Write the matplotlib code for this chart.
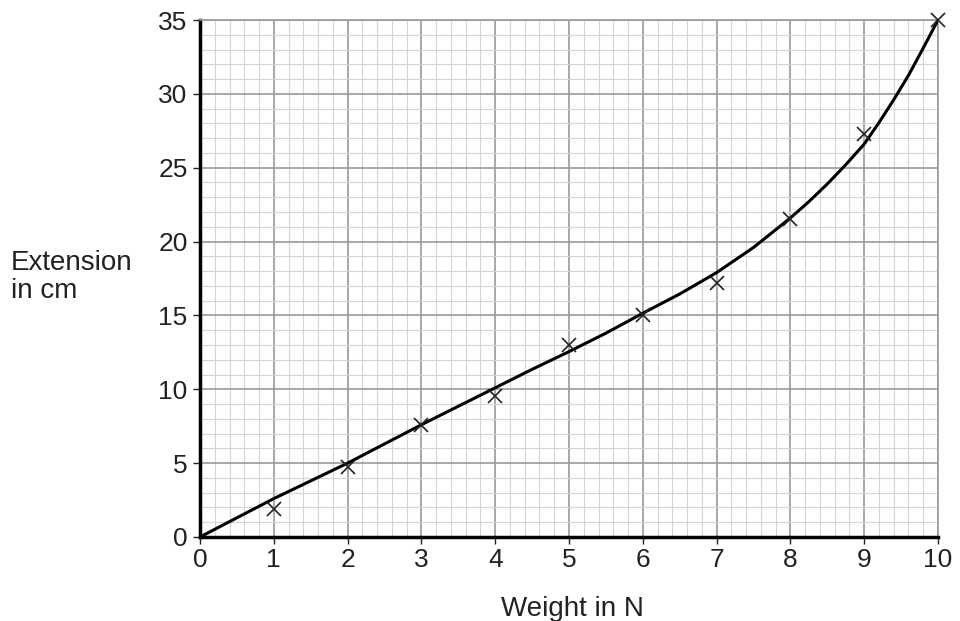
import matplotlib
matplotlib.use("Agg")
import matplotlib.pyplot as plt
from matplotlib.ticker import MultipleLocator

# measured points (crosses)
weight = [1, 2, 3, 4, 5, 6, 7, 8, 9, 10]
extension = [1.9, 4.75, 7.6, 9.55, 13.0, 15.0, 17.2, 21.5, 27.3, 35.0]

# best-fit curve
curve_x = [0, 0.5, 1, 1.5, 2, 2.5, 3, 3.5, 4, 4.5, 5, 5.5, 6, 6.5, 7, 7.5,
           8, 8.25, 8.5, 8.75, 9, 9.2, 9.4, 9.6, 9.8, 9.9, 10]
curve_y = [0, 1.3, 2.6, 3.8, 5.0, 6.3, 7.6, 8.85, 10.1, 11.35, 12.55, 13.8,
           15.15, 16.45, 17.9, 19.6, 21.6, 22.7, 23.9, 25.2, 26.6, 28.05,
           29.6, 31.25, 33.1, 34.05, 35.0]

plt.rcParams['font.family'] = ['Liberation Sans', 'DejaVu Sans']

fig = plt.figure(figsize=(9.6, 6.21), dpi=100)
ax = fig.add_axes([200 / 960, 84 / 621, 738 / 960, 517 / 621])

ax.set_xlim(0, 10)
ax.set_ylim(0, 35)
ax.xaxis.set_major_locator(MultipleLocator(1))
ax.xaxis.set_minor_locator(MultipleLocator(0.2))
ax.yaxis.set_major_locator(MultipleLocator(5))
ax.yaxis.set_minor_locator(MultipleLocator(1))

ax.grid(which='minor', color='#d4d4d4', linewidth=0.8)
ax.grid(which='major', color='#9a9a9a', linewidth=1.2)
ax.set_axisbelow(True)

for side in ['top', 'right']:
    ax.spines[side].set_color('#9a9a9a')
    ax.spines[side].set_linewidth(1.2)
for side in ['left', 'bottom']:
    ax.spines[side].set_color('black')
    ax.spines[side].set_linewidth(2.5)

ax.tick_params(which='major', direction='out', length=5, width=1,
               labelsize=19, colors='#222222', pad=4)
ax.tick_params(axis='x', pad=3)
ax.tick_params(which='minor', length=0)

ax.plot(curve_x, curve_y, color='black', linewidth=2.2, zorder=3,
        solid_capstyle='round', solid_joinstyle='round')
ax.plot(weight, extension, linestyle='none', marker='x', color='#222222',
        markersize=10, markeredgewidth=1.2, zorder=4, clip_on=False)

fig.text(572 / 960, 1 - 616 / 621, 'Weight in N', ha='center', va='baseline',
         fontsize=20, color='#222222')
fig.text(11 / 960, 1 - 277 / 621, 'Extension\nin cm', ha='left', va='center',
         fontsize=20, color='#222222', linespacing=1.1)

fig.savefig('out.png', dpi=100)
